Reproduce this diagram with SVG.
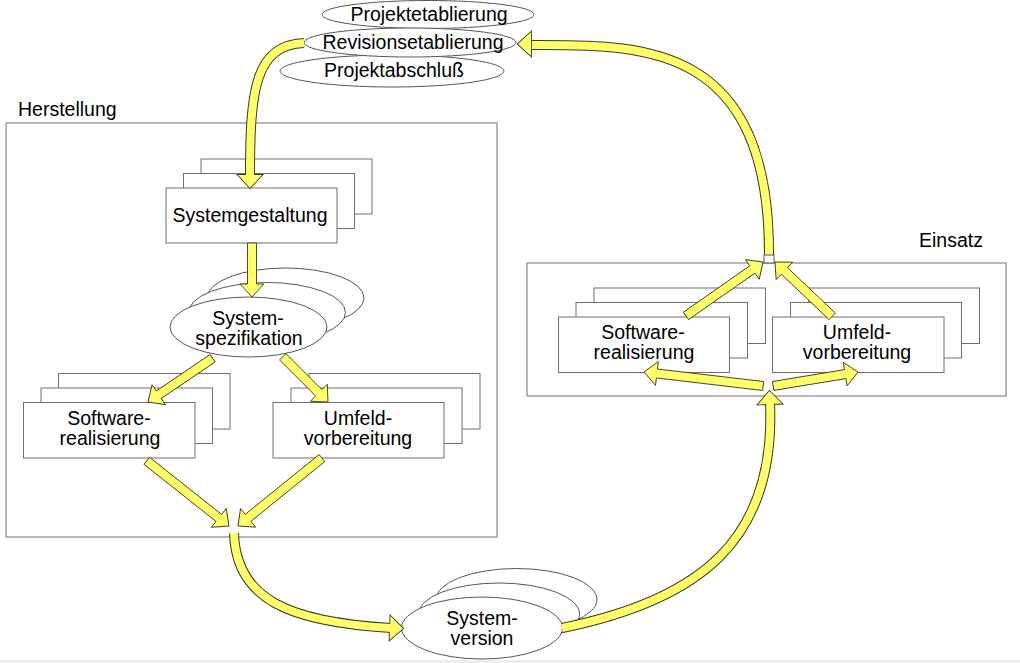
<svg xmlns="http://www.w3.org/2000/svg" width="1020" height="663" viewBox="0 0 1020 663">
<style>
.frame{fill:#fff;stroke:#6e6e6e;stroke-width:1}
.box{fill:#fff;stroke:#6e6e6e;stroke-width:1}
.ell{fill:#fff;stroke:#555;stroke-width:1}
.t{font-family:"Liberation Sans",Arial,sans-serif;font-size:19.5px;fill:#000;text-anchor:middle}
.lbl{font-family:"Liberation Sans",Arial,sans-serif;font-size:19.5px;fill:#000}
.arr{fill:#ffff66;stroke:#3a3a2a;stroke-width:0.9;stroke-linejoin:miter}
.so{fill:none;stroke:#3a3a2a;stroke-width:10}
.sy{fill:none;stroke:#ffff66;stroke-width:8}
.ho{fill:#3a3a2a;stroke:#3a3a2a;stroke-width:1.8;stroke-linejoin:miter}
.hy{fill:#ffff66}
</style>
<defs>
<polygon id="head" points="0,0 -13,-12 -13,12"/>
</defs>
<rect x="0" y="660" width="1020" height="3" fill="#ededed"/>

<g id="herstellung">
<rect class="frame" x="6" y="123" width="491" height="414"/>
<text class="lbl" x="18" y="116">Herstellung</text>
</g>
<g id="einsatz">
<rect class="frame" x="527" y="263" width="479" height="133"/>
<text class="lbl" x="919" y="247">Einsatz</text>
</g>

<g id="projektetablierung">
<ellipse class="ell" cx="428" cy="14.5" rx="106" ry="14"/>
<text class="t" x="429" y="21">Projektetablierung</text>
</g>
<g id="projektabschluss">
<ellipse class="ell" cx="392" cy="71" rx="112" ry="16"/>
<text class="t" x="394" y="77">Projektabschluß</text>
</g>
<g id="revisionsetablierung">
<ellipse class="ell" cx="410" cy="42.5" rx="106" ry="14.5"/>
<text class="t" x="413" y="49">Revisionsetablierung</text>
</g>

<g id="systemgestaltung">
<rect class="box" x="201" y="159" width="171" height="55"/>
<rect class="box" x="183.5" y="173.5" width="171" height="55"/>
<rect class="box" x="166" y="188" width="171" height="55"/>
<text class="t" x="250" y="222">Systemgestaltung</text>
</g>

<g id="systemspezifikation">
<ellipse class="ell" cx="285.5" cy="298" rx="78.5" ry="30"/>
<ellipse class="ell" cx="267" cy="312.5" rx="78.5" ry="30"/>
<ellipse class="ell" cx="248.5" cy="327" rx="78.5" ry="30"/>
<text class="t" x="248" y="325">System-</text>
<text class="t" x="249" y="345">spezifikation</text>
</g>

<g id="softwarerealisierung-h">
<rect class="box" x="58.5" y="373.5" width="171.5" height="55.5"/>
<rect class="box" x="41" y="388" width="171.5" height="55.5"/>
<rect class="box" x="23.5" y="402.5" width="171.5" height="55.5"/>
<text class="t" x="109" y="425">Software-</text>
<text class="t" x="110" y="445">realisierung</text>
</g>

<g id="umfeldvorbereitung-h">
<rect class="box" x="309" y="373.5" width="171" height="55.5"/>
<rect class="box" x="291" y="388" width="171" height="55.5"/>
<rect class="box" x="273" y="402.5" width="171" height="55.5"/>
<text class="t" x="358" y="425">Umfeld-</text>
<text class="t" x="358" y="445">vorbereitung</text>
</g>

<g id="softwarerealisierung-e">
<rect class="box" x="594" y="288" width="171.5" height="55.5"/>
<rect class="box" x="576" y="302.5" width="171.5" height="55.5"/>
<rect class="box" x="558.5" y="317" width="171" height="55.5"/>
<text class="t" x="643" y="339">Software-</text>
<text class="t" x="644" y="359">realisierung</text>
</g>

<g id="umfeldvorbereitung-e">
<rect class="box" x="808.5" y="288" width="171" height="55.5"/>
<rect class="box" x="790.5" y="302.5" width="171" height="55.5"/>
<rect class="box" x="772.5" y="317" width="171.5" height="55.5"/>
<text class="t" x="857" y="339">Umfeld-</text>
<text class="t" x="857" y="359">vorbereitung</text>
</g>

<g id="systemversion">
<ellipse class="ell" cx="516.5" cy="599.5" rx="80.5" ry="31"/>
<ellipse class="ell" cx="499" cy="614" rx="80.5" ry="31"/>
<ellipse class="ell" cx="482" cy="628" rx="80.5" ry="31"/>
<text class="t" x="482" y="625">System-</text>
<text class="t" x="482" y="645">version</text>
</g>

<g id="connectors">
<path class="so" d="M304 43 C255 45 250 90 250 176"/>
<path class="so" d="M234 533 C236 600 290 622 391 628"/>
<path class="so" d="M562 628 C700 600 776 540 770 403"/>
<path class="so" d="M769 256 C770 40 640 45 532 45"/>
<use class="ho" href="#head" transform="translate(250,188) rotate(90)"/>
<use class="ho" href="#head" transform="translate(403,628.5) rotate(2)"/>
<use class="ho" href="#head" transform="translate(769.5,391) rotate(-92)"/>
<use class="ho" href="#head" transform="translate(518,44) rotate(180)"/>
<path class="sy" d="M304 43 C255 45 250 90 250 176"/>
<path class="sy" d="M234 533 C236 600 290 622 391 628"/>
<path class="sy" d="M562 628 C700 600 776 540 770 403"/>
<path class="sy" d="M769 256 C770 40 640 45 532 45"/>
<use class="hy" href="#head" transform="translate(250,188) rotate(90)"/>
<use class="hy" href="#head" transform="translate(403,628.5) rotate(2)"/>
<use class="hy" href="#head" transform="translate(769.5,391) rotate(-92)"/>
<use class="hy" href="#head" transform="translate(518,44) rotate(180)"/>
<rect x="764" y="255" width="10" height="8" fill="#fff" stroke="#555" stroke-width="1"/>
<polygon class="arr" transform="translate(252,297) rotate(90)" points="0,0 -13,-12 -13,-4.5 -54,-4.5 -54,4.5 -13,4.5 -13,12"/>
<polygon class="arr" transform="translate(148,402) rotate(145.9)" points="0,0 -13,-12 -13,-4.5 -78,-4.5 -78,4.5 -13,4.5 -13,12"/>
<polygon class="arr" transform="translate(328,402) rotate(45)" points="0,0 -13,-12 -13,-4.5 -64,-4.5 -64,4.5 -13,4.5 -13,12"/>
<polygon class="arr" transform="translate(229,526) rotate(38.4)" points="0,0 -13,-12 -13,-4.5 -105,-4.5 -105,4.5 -13,4.5 -13,12"/>
<polygon class="arr" transform="translate(238,526) rotate(141)" points="0,0 -13,-12 -13,-4.5 -108,-4.5 -108,4.5 -13,4.5 -13,12"/>
<polygon class="arr" transform="translate(644,372) rotate(186.7)" points="0,0 -13,-12 -13,-4.5 -120,-4.5 -120,4.5 -13,4.5 -13,12"/>
<polygon class="arr" transform="translate(858,372) rotate(-9.35)" points="0,0 -13,-12 -13,-4.5 -86,-4.5 -86,4.5 -13,4.5 -13,12"/>
<polygon class="arr" transform="translate(763,262) rotate(-35)" points="0,0 -13,-12 -13,-4.5 -94,-4.5 -94,4.5 -13,4.5 -13,12"/>
<polygon class="arr" transform="translate(775,262) rotate(223.5)" points="0,0 -13,-12 -13,-4.5 -79,-4.5 -79,4.5 -13,4.5 -13,12"/>
</g>
</svg>
